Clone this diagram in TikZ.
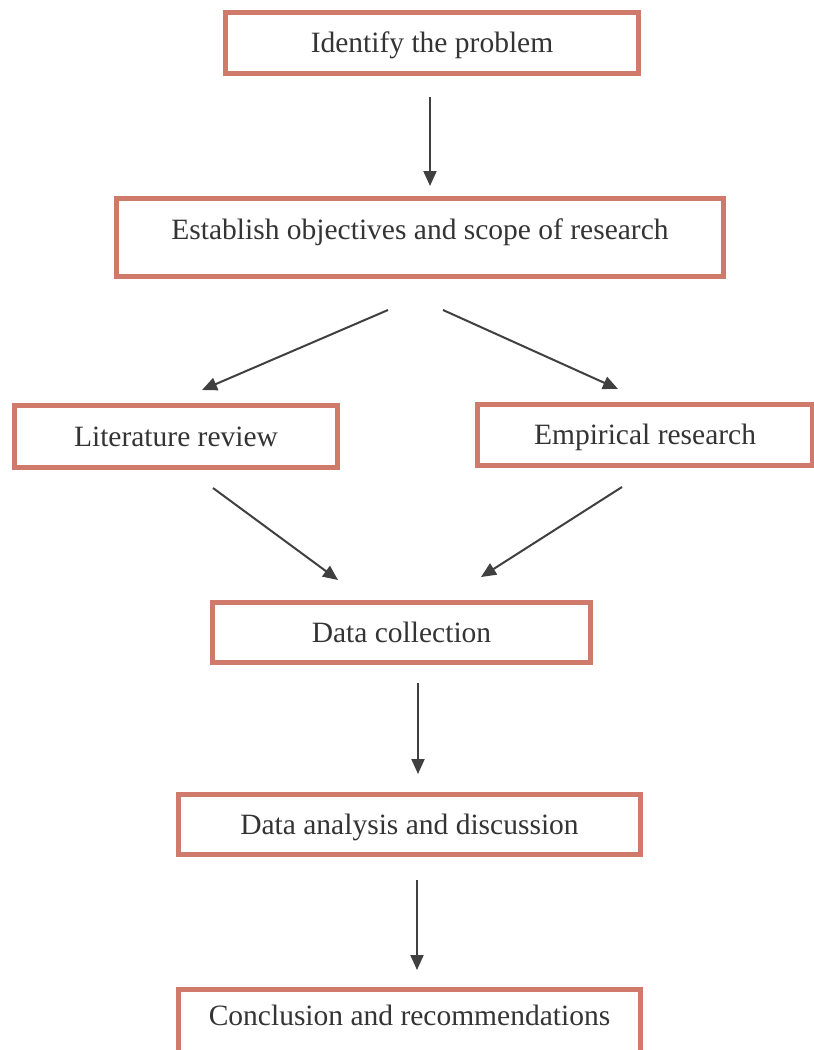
\documentclass[tikz,border=0pt]{standalone}
\usepackage{fontspec}
\setmainfont{Liberation Serif}
\usetikzlibrary{arrows.meta}
\definecolor{boxred}{RGB}{208,122,108}
\definecolor{inkgray}{RGB}{52,52,52}
\definecolor{arrowgray}{RGB}{64,64,64}
\tikzset{
  stepbox/.style={draw=boxred, line width=5.5pt, fill=white, rectangle, inner sep=0pt,
    text=inkgray, font=\fontsize{29.5}{34}\selectfont, text height=19pt, text depth=0pt},
  flowarrow/.style={draw=arrowgray, line width=2pt,
    -{Triangle[length=15pt,width=13pt]}}
}
\begin{document}
\begin{tikzpicture}[x=1pt,y=-1pt]
\useasboundingbox (0,0) rectangle (814,1050);
\fill[white] (0,0) rectangle (814,1050);

\node[stepbox, minimum width=413pt, minimum height=61pt] (identify) at (432,43) {Identify the problem};
\node[stepbox, minimum width=607pt, minimum height=78pt, text depth=15pt] (establish) at (420,237.5) {Establish objectives and scope of research};
\node[stepbox, minimum width=323pt, minimum height=62pt] (litrev) at (176,436.5) {Literature review};
\node[stepbox, minimum width=335pt, minimum height=61pt] (empres) at (645,435) {Empirical research};
\node[stepbox, minimum width=378pt, minimum height=60pt] (datacol) at (401.5,632.5) {Data collection};
\node[stepbox, minimum width=462pt, minimum height=60pt] (datana) at (409.5,824.5) {Data analysis and discussion};
\node[stepbox, minimum width=462pt, minimum height=68pt, text depth=16pt] (concl) at (409.5,1023.5) {Conclusion and recommendations};

\coordinate (a1s) at (430,97);   \coordinate (a1e) at (430,186);
\coordinate (a2s) at (388,310);  \coordinate (a2e) at (202,390);
\coordinate (a3s) at (443,310);  \coordinate (a3e) at (618,389);
\coordinate (a4s) at (213,488);  \coordinate (a4e) at (338,580);
\coordinate (a5s) at (622,487);  \coordinate (a5e) at (481,577);
\coordinate (a6s) at (418,683);  \coordinate (a6e) at (418,774);
\coordinate (a7s) at (417,880);  \coordinate (a7e) at (417,970);

\draw[flowarrow] (a1s) -- (a1e);
\draw[flowarrow] (a2s) -- (a2e);
\draw[flowarrow] (a3s) -- (a3e);
\draw[flowarrow] (a4s) -- (a4e);
\draw[flowarrow] (a5s) -- (a5e);
\draw[flowarrow] (a6s) -- (a6e);
\draw[flowarrow] (a7s) -- (a7e);
\end{tikzpicture}
\end{document}
